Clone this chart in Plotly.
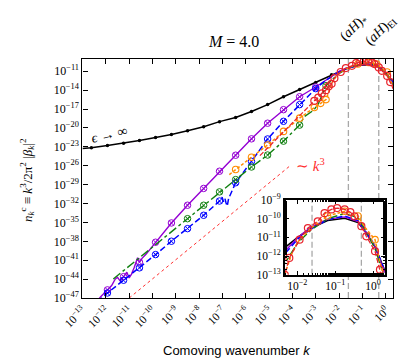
import plotly.graph_objects as go

# ---------------- data (log10 values) ----------------
black_logk = [-13.0, -12.62, -11.93, -11.24, -10.56, -9.87, -9.19, -8.50, -7.81, -7.13, -6.44, -5.76,
              -5.07, -4.39, -3.70, -3.01, -2.33, -1.99, -1.64, -1.2, -0.75, -0.4, -0.22, 0.05, 0.31]
black_logn = [-23.25, -23.15, -22.8, -22.42, -22.0, -21.5, -21.05, -20.45, -19.8, -19.0, -18.35, -17.4,
              -16.3, -15.05, -13.9, -12.8, -11.55, -11.0, -10.5, -10.1, -9.98, -10.2, -10.65, -11.5, -12.8]
black_marks = [-12.62, -11.93, -11.24, -10.56, -9.87, -9.19, -8.50, -7.81, -7.13, -6.44, -5.76,
               -5.07, -4.39, -3.70, -3.01, -2.33]

purple_logk = [-12.45, -12.2, -11.93, -11.75, -11.6, -11.5, -11.38, -11.24, -11.1, -11.0, -10.9, -10.78,
               -10.7, -10.64, -10.56, -10.45, -10.29, -10.1, -9.87, -9.19, -8.50, -7.81, -7.13, -6.44,
               -5.76, -5.07, -4.39, -3.70, -3.01, -2.33, -1.99, -1.64, -1.2, -0.75, -0.4, -0.22, 0.05, 0.31]
purple_logn = [-47.8, -46.7, -45.7, -45.0, -44.0, -43.7, -44.3, -43.6, -42.9, -43.8, -43.2, -42.1,
               -41.0, -40.6, -41.3, -40.7, -40.1, -39.2, -38.14, -35.08, -32.27, -29.6, -26.87, -24.33,
               -21.73, -19.25, -17.1, -15.05, -13.5, -11.75, -11.0, -10.45, -10.02, -9.9, -10.15, -10.65, -11.5, -12.9]
purple_marks = [-11.93, -11.24, -10.56, -9.87, -9.19, -8.50, -7.81, -7.13, -6.44, -5.76, -5.07, -4.39,
                -3.70, -3.01]

blue_logk = [-12.35, -11.93, -11.24, -10.56, -9.87, -9.19, -8.50, -7.81, -7.13, -7.02, -6.96, -6.9,
             -6.85, -6.8, -6.74, -6.6, -6.44, -5.76, -5.07, -4.39, -3.70, -3.01, -2.6, -2.33, -1.99,
             -1.64, -1.2, -0.75, -0.4, -0.22, 0.05, 0.31]
blue_logn = [-47.6, -46.19, -44.17, -42.2, -40.1, -37.98, -35.98, -33.86, -31.6, -31.0, -31.7, -31.2,
             -31.9, -32.4, -31.2, -29.9, -28.7, -25.3, -21.75, -18.95, -16.3, -13.76, -12.5, -11.9, -11.1,
             -10.55, -10.05, -9.85, -10.1, -10.6, -11.45, -12.8]
blue_marks = [-11.93, -11.24, -10.56, -9.87, -9.19, -8.50, -7.81, -7.13, -6.44, -5.76, -5.07, -4.39,
              -3.70, -3.01]

green_logk = [-11.68, -8.50, -7.81, -7.13, -6.44, -5.76, -5.07, -4.39, -3.70, -3.5, -3.35, -3.1, -2.9,
              -2.7, -2.57, -2.33, -2.17, -1.99, -1.64, -1.2, -0.75, -0.4, -0.22, 0.05, 0.31]
green_logn = [-43.97, -34.4, -32.27, -30.15, -28.2, -26.2, -24.3, -22.1, -19.55, -18.2, -17.8, -17.2, -16.2,
              -14.6, -13.3, -12.4, -11.9, -11.3, -10.6, -10.0, -9.72, -9.95, -10.55, -11.6, -13.2]
green_marks = [-8.50, -7.81, -7.13, -6.44, -5.76, -5.07, -4.39, -3.70, -2.57]

orange_logk = [-6.71, -6.44, -5.76, -5.07, -4.39, -3.70, -3.35, -3.07, -2.8, -2.57, -2.45, -2.3, -2.15,
               -1.99, -1.64, -1.2, -0.75, -0.4, -0.22, 0.05, 0.18, 0.31]
orange_logn = [-27.4, -26.6, -24.65, -22.7, -20.55, -18.45, -17.5, -16.75, -16.1, -15.5, -14.3, -12.8, -11.9,
               -11.25, -10.5, -9.85, -9.6, -9.85, -10.45, -11.12, -12.3, -13.4]
orange_marks = [-6.44, -5.76, -5.07, -4.39, -3.70, -3.07, -2.8, -2.57, -1.2, -0.75, -0.4, 0.05]

red_logk = [-5.4, -4.7, -4.0, -3.5, -3.07, -2.9, -2.75, -2.57, -2.45, -2.33, -2.21, -1.94, -1.72, -1.46,
            -1.28, -1.1, -0.95, -0.75, -0.6, -0.49, -0.31, -0.18, 0.05, 0.18, 0.31]
red_logn = [-24.4, -21.8, -19.1, -17.3, -15.7, -15.2, -14.5, -14.0, -13.4, -13.0, -12.1, -11.12, -10.5,
            -10.14, -9.7, -9.5, -9.43, -9.5, -9.65, -9.87, -10.4, -10.94, -11.74, -12.73, -13.8]
red_marks = [-3.07, -2.9, -2.75, -2.57, -2.45, -2.33, -2.21, -1.94, -1.72, -1.46, -1.28, -1.1, -0.95,
             -0.75, -0.6, -0.49, -0.31, -0.18, 0.05, 0.18]

k3_logk = [-11.0, -4.14]
k3_logn = [-47.0, -26.1]

k_star = 0.0245
k_EI = 0.49

main_xrange = [-13.0, 0.301]
main_yrange = [-47.0, -9.0]
inset_xrange = [-2.33, 0.31]
inset_yrange = [-13.0, -9.0]

main_xticks = list(range(-13, 1))
main_yticks = list(range(-47, -10, 3))
inset_xticks = [-2, -1, 0]
inset_yticks = [-13, -12, -11, -10, -9]

# ---------------------------------------------------------------------------
def P(a):
    return [10.0 ** v for v in a]

def sup(e):
    return "10<sup>%s</sup>" % (str(e).replace("-", "\u2212"))

series = [
    dict(k=black_logk, n=black_logn, m=black_marks, color="black", dash="solid", w=1.5,
         sym="circle", size=3.5, mlw=0),
    dict(k=purple_logk, n=purple_logn, m=purple_marks, color="#9400D3", dash="solid", w=1.4,
         sym="circle-x-open", size=6.5, mlw=1),
    dict(k=blue_logk, n=blue_logn, m=blue_marks, color="#0000FF", dash="6px,3px", w=1.5,
         sym="circle-x-open", size=6.5, mlw=1),
    dict(k=green_logk, n=green_logn, m=green_marks, color="#108010", dash="dashdot", w=1.4,
         sym="circle-x-open", size=6.5, mlw=1),
    dict(k=orange_logk, n=orange_logn, m=orange_marks, color="#FF8C00", dash="3px,2px", w=1.5,
         sym="circle-open", size=6.5, mlw=1.1),
    dict(k=red_logk, n=red_logn, m=red_marks, color="#E8242C", dash="5px,2px", w=1.3,
         sym="circle-open", size=7, mlw=1.2),
]

fig = go.Figure()

for xa, ya, yr in [("x", "y", main_yrange), ("x2", "y2", inset_yrange)]:
    for kv in (k_star, k_EI):
        fig.add_trace(go.Scatter(x=[kv, kv], y=P(yr), mode="lines", xaxis=xa, yaxis=ya,
                                 line=dict(color="#A8A8A8", width=1.3, dash="6px,3px"),
                                 showlegend=False, hoverinfo="skip"))
    for s in series:
        fig.add_trace(go.Scatter(x=P(s["k"]), y=P(s["n"]), mode="lines", xaxis=xa, yaxis=ya,
                                 line=dict(color=s["color"], width=s["w"], dash=s["dash"]),
                                 showlegend=False, hoverinfo="skip"))
        idx = [i for i, kk in enumerate(s["k"]) if kk in s["m"]]
        fig.add_trace(go.Scatter(x=[10.0 ** s["k"][i] for i in idx],
                                 y=[10.0 ** s["n"][i] for i in idx],
                                 mode="markers", xaxis=xa, yaxis=ya,
                                 marker=dict(symbol=s["sym"], size=s["size"], color=s["color"],
                                             line=dict(color=s["color"], width=s["mlw"])),
                                 showlegend=False, hoverinfo="skip"))
    if xa == "x":
        fig.add_trace(go.Scatter(x=P(k3_logk), y=P(k3_logn), mode="lines", xaxis=xa, yaxis=ya,
                                 line=dict(color="#FF3030", width=1, dash="dot"),
                                 showlegend=False, hoverinfo="skip"))

serif = "Liberation Serif"
tickfont = dict(family=serif, size=12, color="black")

common = dict(type="log", showline=True, linecolor="black", mirror="ticks", ticks="inside",
              tickcolor="black", showgrid=False, zeroline=False, automargin=False)

fig.update_layout(
    width=407, height=359, margin=dict(l=0, r=0, t=0, b=0, autoexpand=False),
    paper_bgcolor="white", plot_bgcolor="white", showlegend=False,
    xaxis=dict(**common, range=main_xrange, domain=[0.183, 0.946], anchor="y",
               tickvals=[10.0 ** e for e in main_xticks], ticktext=[sup(e) for e in main_xticks],
               tickangle=-45, ticklen=5, linewidth=1.2, tickfont=dict(family=serif, size=11.5, color="black")),
    yaxis=dict(**common, range=main_yrange, domain=[0.192, 0.859], anchor="x",
               tickvals=[10.0 ** e for e in main_yticks], ticktext=[sup(e) for e in main_yticks],
               ticklen=5, linewidth=1.2, tickfont=tickfont),
    xaxis2=dict(**common, range=inset_xrange, domain=[0.680, 0.926], anchor="y2",
                tickvals=[10.0 ** e for e in inset_xticks], ticktext=[sup(e) for e in inset_xticks],
                ticklen=4, linewidth=1.5, tickfont=dict(family=serif, size=11.5, color="black"),
                minor=dict(ticks="inside", ticklen=2, tickcolor="black", showgrid=False)),
    yaxis2=dict(**common, range=inset_yrange, domain=[0.257, 0.465], anchor="x2",
                tickvals=[10.0 ** e for e in inset_yticks], ticktext=[sup(e) for e in inset_yticks],
                ticklen=4, linewidth=1.5, tickfont=dict(family=serif, size=11.5, color="black"),
                minor=dict(ticks="inside", ticklen=2, tickcolor="black", showgrid=False)),
)

ann = [
    dict(x=0.553, y=0.908, text="<i>M</i> = 4.0", font=dict(family=serif, size=16), textangle=0),
    dict(x=0.848, y=0.944, text="(<i>aH</i>)<sub>*</sub>", font=dict(family=serif, size=14), textangle=-45),
    dict(x=0.917, y=0.936, text="(<i>aH</i>)<sub>EI</sub>", font=dict(family=serif, size=14), textangle=-45),
    dict(x=0.744, y=0.563, text="\u223c <i>k</i><sup>3</sup>", font=dict(family=serif, size=15, color="#FF3030"), textangle=0),
    dict(x=0.250, y=0.648, text="<i>\u03f5</i> \u2192 \u221e", font=dict(family=serif, size=14), textangle=-13),
    dict(x=0.047, y=0.521, text="<i>n</i><sub><i>k</i></sub><sup>c</sup> \u2261 <i>k</i><sup>3</sup>/2\u03c0<sup>2</sup> |<i>\u03b2</i><sub><i>k</i></sub>|<sup>2</sup>",
         font=dict(family=serif, size=13), textangle=-90),
    dict(x=0.563, y=0.047, text="Comoving wavenumber <i>k</i>", font=dict(family="Liberation Sans", size=13), textangle=0),
]
for a in ann:
    a.update(xref="paper", yref="paper", showarrow=False, xanchor="center", yanchor="middle")
    a["font"].setdefault("color", "black")
fig.update_layout(annotations=ann)

fig.write_html("out.html")
